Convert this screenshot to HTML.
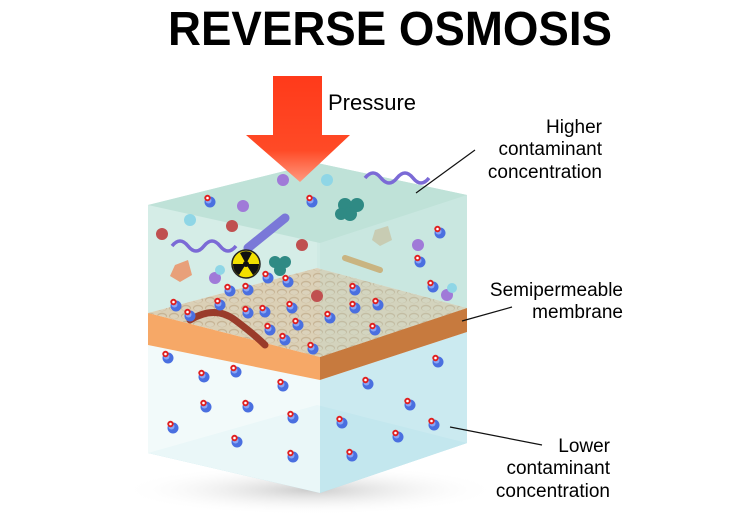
<!DOCTYPE html>
<html><head><meta charset="utf-8"><style>
html,body{margin:0;padding:0;background:#fff;}
svg{display:block;font-family:"Liberation Sans",sans-serif;}
</style></head><body>
<svg width="729" height="516" viewBox="0 0 729 516" xmlns="http://www.w3.org/2000/svg">
<defs>
<linearGradient id="ar" x1="0" y1="0" x2="0" y2="1"><stop offset="0" stop-color="#ff3a1a"/><stop offset="0.7" stop-color="#ff4a26"/><stop offset="1" stop-color="#ff9a80"/></linearGradient>
<radialGradient id="sh" cx="0.5" cy="0.5" r="0.5"><stop offset="0" stop-color="#ccc"/><stop offset="1" stop-color="#fff" stop-opacity="0"/></radialGradient>
<pattern id="hc" width="12" height="8" patternUnits="userSpaceOnUse"><rect width="12" height="8" fill="#dcc3a0"/><ellipse cx="6" cy="4" rx="5" ry="3.2" fill="#bf9c72"/><ellipse cx="6" cy="4.6" rx="4" ry="2.4" fill="#dcc6a6"/></pattern>
<g id="w"><circle r="5.5" fill="#4a6fe0"/><circle cx="-1.5" cy="-1.5" r="3" fill="#8aa6f5"/><circle cx="-2.5" cy="-4" r="3.2" fill="#e02020"/><circle cx="-2.5" cy="-4" r="1.3" fill="#fff"/></g>
</defs>
<ellipse cx="310" cy="490" rx="190" ry="25" fill="url(#sh)"/>
<polygon points="148,453 317,405 467,443 320,493" fill="#a9dde6"/>
<polygon points="148,345 320,380 320,493 148,453" fill="#f1f9fa" opacity="0.9"/>
<polygon points="320,380 467,332 467,443 320,493" fill="#c5e8ee" opacity="0.9"/>
<polygon points="148,205 317,163 317,268 148,313" fill="#d3ece6"/>
<polygon points="317,163 467,195 467,308 317,268" fill="#cbe8e1"/>
<polygon points="148,313 317,268 467,308 320,357" fill="url(#hc)"/>
<polygon points="148,313 320,357 320,380 148,345" fill="#f6a867"/>
<polygon points="320,357 467,308 467,332 320,380" fill="#c77a3e"/>
<polygon points="148,205 320,243 320,357 148,313" fill="#d9f0eb" opacity="0.3"/>
<polygon points="320,243 467,195 467,308 320,357" fill="#c7e6df" opacity="0.45"/>
<polygon points="148,205 317,163 467,195 320,243" fill="#bfe2d8"/>
<path d="M365,178 q8,-10 16,0 t16,0 t16,0 t16,0" stroke="#7b6ad6" stroke-width="3.5" fill="none"/>
<path d="M172,246 q8,-10 16,0 t16,0 t16,0 t16,0" stroke="#7b6ad6" stroke-width="3.5" fill="none"/>
<path d="M248,248 L285,218" stroke="#7a78d8" stroke-width="9" stroke-linecap="round"/>
<g fill="#2f8a84"><circle cx="345" cy="205" r="7"/><circle cx="357" cy="205" r="7"/><circle cx="350" cy="214" r="7"/><circle cx="341" cy="214" r="6"/><circle cx="275" cy="262" r="6"/><circle cx="285" cy="262" r="6"/><circle cx="280" cy="270" r="6"/></g>
<circle cx="246" cy="264" r="14" fill="#f2e000" stroke="#222" stroke-width="1.5"/>
<circle cx="246" cy="264" r="3" fill="#111"/>
<path d="M246,264 L240,253 A12,12 0 0 1 252,253 Z M246,264 L259,264 A12,12 0 0 1 253,275 Z M246,264 L239,275 A12,12 0 0 1 233,264 Z" fill="#111"/>
<polygon points="175,265 188,260 192,275 180,282 170,276" fill="#e8a07a"/>
<polygon points="375,230 388,226 392,240 380,246 372,240" fill="#c8c0a0" opacity="0.7"/>
<path d="M190,320 q25,-15 45,0 t30,25" stroke="#9a3b2a" stroke-width="7" fill="none" stroke-linecap="round"/>
<path d="M345,258 L380,270" stroke="#c9a86a" stroke-width="6" stroke-linecap="round" opacity="0.8"/>
<g fill="#c05050"><circle cx="162" cy="234" r="6"/><circle cx="232" cy="226" r="6"/><circle cx="302" cy="245" r="6"/><circle cx="317" cy="296" r="6"/></g>
<g fill="#a07ad8"><circle cx="283" cy="180" r="6"/><circle cx="243" cy="206" r="6"/><circle cx="215" cy="278" r="6"/><circle cx="418" cy="245" r="6"/><circle cx="447" cy="295" r="6"/></g>
<g fill="#8fd6e6"><circle cx="190" cy="220" r="6"/><circle cx="327" cy="180" r="6"/><circle cx="220" cy="270" r="5"/><circle cx="452" cy="288" r="5"/></g>
<g>
<use href="#w" x="210" y="202"/><use href="#w" x="312" y="202"/><use href="#w" x="440" y="233"/><use href="#w" x="420" y="262"/><use href="#w" x="433" y="287"/>
<use href="#w" x="230" y="291"/><use href="#w" x="248" y="290"/><use href="#w" x="176" y="306"/><use href="#w" x="190" y="316"/><use href="#w" x="220" y="305"/><use href="#w" x="268" y="278"/><use href="#w" x="288" y="282"/><use href="#w" x="248" y="313"/><use href="#w" x="265" y="312"/><use href="#w" x="292" y="308"/><use href="#w" x="270" y="330"/><use href="#w" x="298" y="325"/><use href="#w" x="285" y="340"/><use href="#w" x="313" y="349"/><use href="#w" x="330" y="318"/><use href="#w" x="355" y="308"/><use href="#w" x="378" y="305"/><use href="#w" x="355" y="290"/><use href="#w" x="375" y="330"/>
<use href="#w" x="168" y="358"/><use href="#w" x="204" y="377"/><use href="#w" x="236" y="372"/><use href="#w" x="283" y="386"/><use href="#w" x="206" y="407"/><use href="#w" x="248" y="407"/><use href="#w" x="173" y="428"/><use href="#w" x="237" y="442"/><use href="#w" x="293" y="418"/><use href="#w" x="293" y="457"/><use href="#w" x="368" y="384"/><use href="#w" x="410" y="405"/><use href="#w" x="438" y="362"/><use href="#w" x="342" y="423"/><use href="#w" x="434" y="425"/><use href="#w" x="398" y="437"/><use href="#w" x="352" y="456"/>
</g>
<polygon points="273,76 322,76 322,135 350,135 300,182 246,135 273,135" fill="url(#ar)"/>
<text x="390" y="45" text-anchor="middle" font-size="48" font-weight="bold" textLength="444" lengthAdjust="spacingAndGlyphs">REVERSE OSMOSIS</text>
<text x="328" y="110" font-size="22">Pressure</text>
<g font-size="19" text-anchor="end">
<text x="602" y="133">Higher</text><text x="602" y="155">contaminant</text><text x="602" y="178">concentration</text>
<text x="623" y="296">Semipermeable</text><text x="623" y="318">membrane</text>
<text x="610" y="452">Lower</text><text x="610" y="474">contaminant</text><text x="610" y="497">concentration</text>
</g>
<g stroke="#111" stroke-width="1.2">
<line x1="416" y1="193" x2="475" y2="150"/>
<line x1="462" y1="321" x2="512" y2="307"/>
<line x1="450" y1="427" x2="542" y2="445"/>
</g>
</svg>
</body></html>
